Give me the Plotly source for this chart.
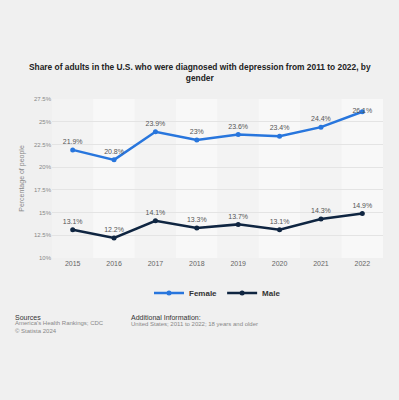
import plotly.graph_objects as go

years = ["2015", "2016", "2017", "2018", "2019", "2020", "2021", "2022"]
female = [21.9, 20.8, 23.9, 23.0, 23.6, 23.4, 24.4, 26.1]
male = [13.1, 12.2, 14.1, 13.3, 13.7, 13.1, 14.3, 14.9]
y_ticks = [10, 12.5, 15, 17.5, 20, 22.5, 25, 27.5]

FONT = "Liberation Sans, Arial, sans-serif"
BLUE = "#2876dd"
NAVY = "#0f2541"

def fmt(v):
    s = f"{v:.1f}".rstrip("0").rstrip(".")
    return s + "%"

fig = go.Figure()

fig.add_trace(go.Scatter(
    x=years, y=female, name="Female", mode="lines+markers+text",
    line=dict(color=BLUE, width=2.5), marker=dict(color=BLUE, size=5),
    text=[fmt(v) for v in female],
    textposition=["top center"] * (len(female) - 1) + ["middle center"],
    textfont=dict(family=FONT, size=7, color="#555555"),
    cliponaxis=False,
))
fig.add_trace(go.Scatter(
    x=years, y=male, name="Male", mode="lines+markers+text",
    line=dict(color=NAVY, width=2.5), marker=dict(color=NAVY, size=5),
    text=[fmt(v) for v in male], textposition="top center",
    textfont=dict(family=FONT, size=7, color="#555555"),
    cliponaxis=False,
))

shapes = []
for i, _ in enumerate(years):
    shapes.append(dict(
        type="rect", xref="x", yref="paper", x0=i - 0.5, x1=i + 0.5, y0=0, y1=1,
        fillcolor="#f8f8f8" if i % 2 == 1 else "#f3f3f3", line=dict(width=0), layer="below",
    ))

annotations = [
    dict(text="<b>Share of adults in the U.S. who were diagnosed with depression from 2011 to 2022, by<br>gender</b>",
         xref="paper", yref="paper", x=0.5 - (52 - 16) / 2 / 331, y=1 + (99 - 72.5) / 159,
         xanchor="center", yanchor="middle", showarrow=False,
         font=dict(family=FONT, size=8.4, color="#222222")),
    dict(text="Sources", xref="paper", yref="paper", x=-39 / 331, y=-(317 - 258) / 159,
         xanchor="left", yanchor="middle", showarrow=False, align="left",
         font=dict(family=FONT, size=7, color="#333333")),
    dict(text="America's Health Rankings; CDC<br>© Statista 2024", xref="paper", yref="paper",
         x=-39 / 331, y=-(327 - 258) / 159, xanchor="left", yanchor="middle", showarrow=False,
         align="left", font=dict(family=FONT, size=6, color="#888888")),
    dict(text="Additional Information:", xref="paper", yref="paper", x=(129 - 52) / 331,
         y=-(317 - 258) / 159, xanchor="left", yanchor="middle", showarrow=False,
         font=dict(family=FONT, size=7, color="#333333")),
    dict(text="United States; 2011 to 2022; 18 years and older", xref="paper", yref="paper",
         x=(129 - 52) / 331, y=-(324 - 258) / 159, xanchor="left", yanchor="middle",
         showarrow=False, font=dict(family=FONT, size=6, color="#888888")),
]

fig.update_layout(
    width=399, height=400,
    margin=dict(l=52, r=16, t=99, b=142),
    paper_bgcolor="#f0f0f0", plot_bgcolor="#f3f3f3",
    font=dict(family=FONT, color="#666666"),
    showlegend=True,
    legend=dict(orientation="h", x=0.5, xanchor="center", y=-(293 - 258) / 159, yanchor="middle",
                font=dict(family=FONT, size=8, color="#333333", weight="bold"),
                itemwidth=30, bgcolor="rgba(0,0,0,0)"),
    shapes=shapes,
    annotations=annotations,
    xaxis=dict(type="category", showgrid=False, zeroline=False, showline=False,
               tickfont=dict(family=FONT, size=7, color="#666666"), ticks="", ticklen=0),
    yaxis=dict(range=[10, 27.5], tickvals=y_ticks, ticktext=[fmt(v) for v in y_ticks],
               showgrid=True, gridcolor="#e4e4e4", gridwidth=1, zeroline=False,
               tickfont=dict(family=FONT, size=6, color="#888888"),
               title=dict(text="Percentage of people", font=dict(family=FONT, size=7, color="#888888"),
                          standoff=8)),
)

fig.write_html("out.html", config={"displayModeBar": False},
               post_script="document.body.style.margin='0';document.body.style.background='#f0f0f0';")
